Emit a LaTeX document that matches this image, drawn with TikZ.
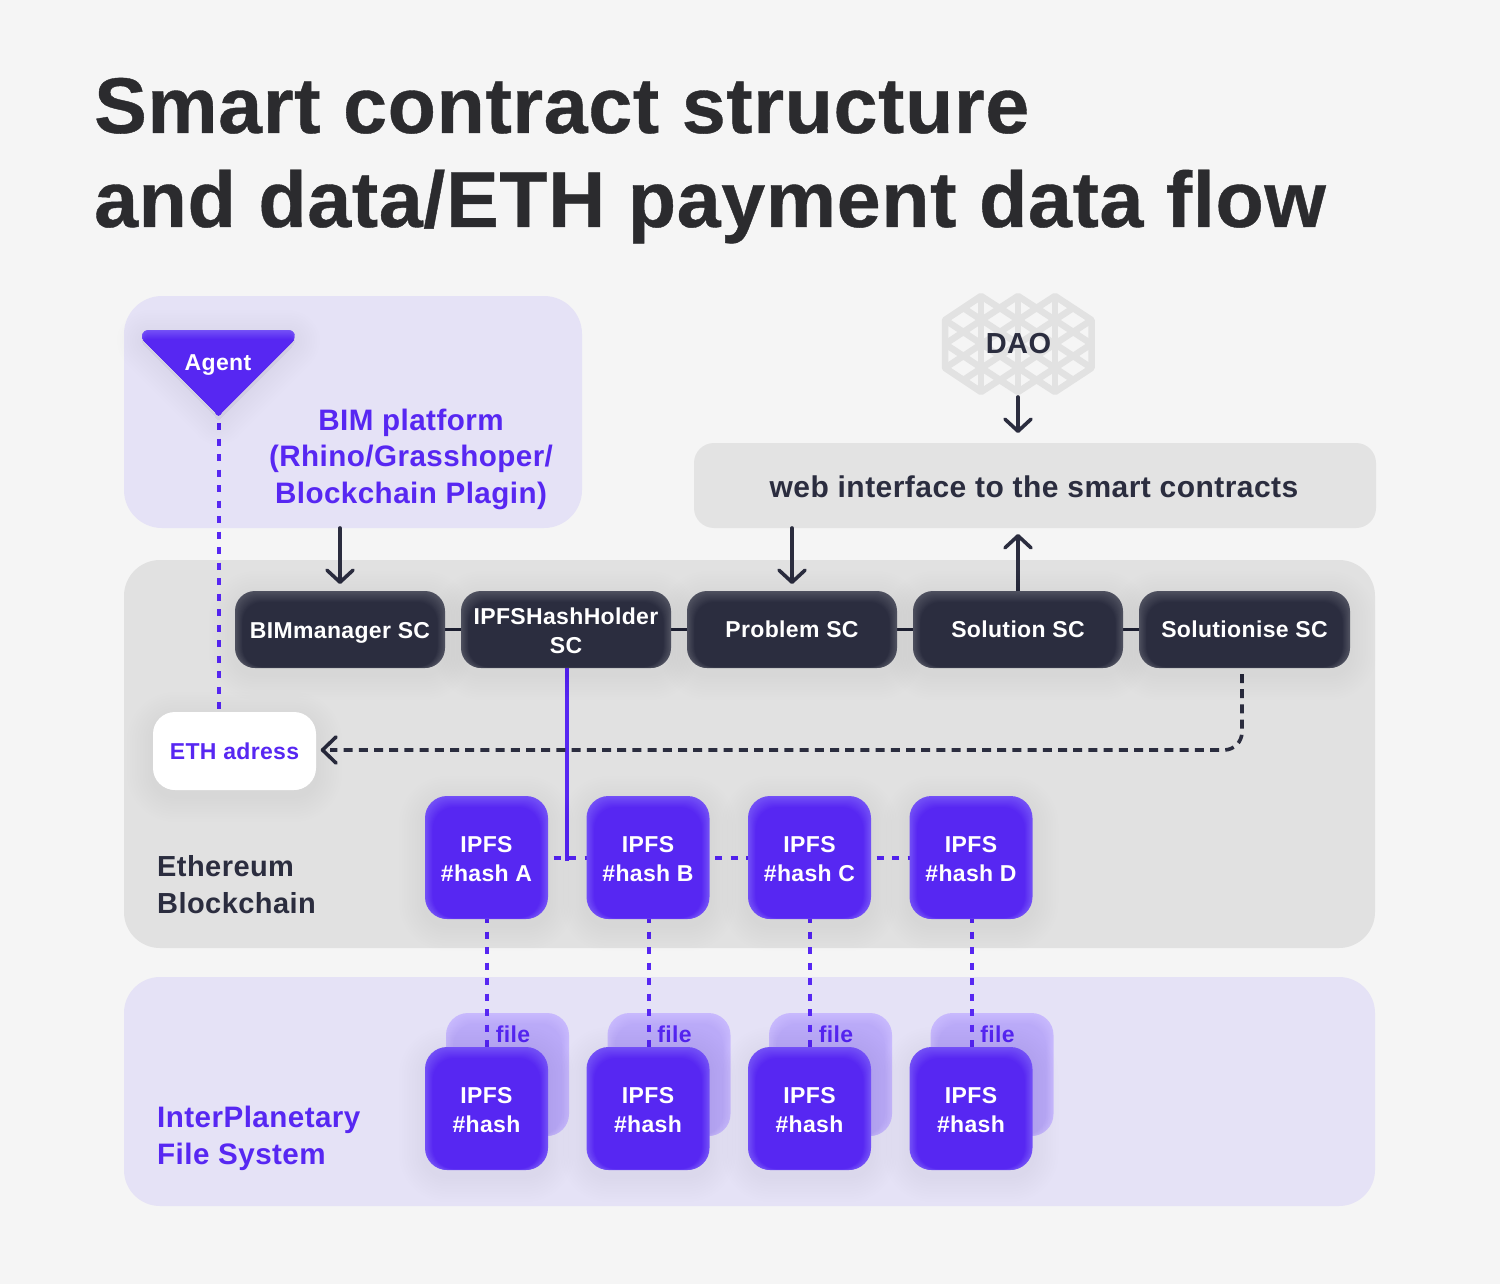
\documentclass[tikz,border=0pt]{standalone}
\usepackage{fontspec}
\setmainfont[LetterSpace=1.5]{Liberation Sans}
\newfontfamily\titlefont[LetterSpace=0.8,BoldFeatures={FakeBold=0.5}]{Liberation Sans}
\usetikzlibrary{arrows.meta,calc}
\definecolor{pagebg}{HTML}{F5F5F5}
\definecolor{lilacpanel}{HTML}{E5E2F6}
\definecolor{greypanel}{HTML}{E1E1E1}
\definecolor{webpanel}{HTML}{E3E3E3}
\definecolor{ink}{HTML}{2B2B2E}
\definecolor{cdark}{HTML}{2B2D3F}
\definecolor{cdarklight}{HTML}{4E505F}
\definecolor{cpurple}{HTML}{5727F2}
\definecolor{cpurplelight}{HTML}{7350F6}
\definecolor{cfile}{HTML}{BAAAF8}
\definecolor{cfilelight}{HTML}{C8B9FD}
\definecolor{cwhite}{HTML}{FFFFFF}
\definecolor{cwhitelight}{HTML}{FFFFFF}
\definecolor{lattice}{HTML}{E2E2E2}
\pgfdeclarelayer{bg}\pgfdeclarelayer{files}\pgfdeclarelayer{conn}
\pgfsetlayers{bg,files,conn,main}
\tikzset{
  fs/.style={font=\bfseries\fontsize{#1}{#1}\selectfont},
  cardtext/.style={inner sep=0pt,align=center,text=white,font=\bfseries\fontsize{23}{29}\selectfont},
  ethtext/.style={cardtext,text=cpurple},
  filetext/.style={inner sep=0pt,text=cpurple,font=\bfseries\fontsize{23}{29}\selectfont},
  titletext/.style={anchor=base west,inner sep=0pt,text=ink,font=\titlefont\bfseries\fontsize{79}{94}\selectfont},
  panel/.style={inner sep=0pt,rounded corners=#1},
  paneltext/.style={inner sep=0pt,align=left,font=\bfseries\fontsize{29}{37}\selectfont},
  flow/.style={draw=cdark,line width=3.6pt,line cap=round,-{Straight Barb[length=12pt,width=26pt,line width=3.6pt,round]}},
  sclink/.style={draw=cdark,line width=3.6pt},
  dashdark/.style={draw=cdark,line width=3.6pt,dash pattern=on 9pt off 6.2pt,rounded corners=18pt},
  dashpurple/.style={draw=cpurple,line width=4pt,dash pattern=on 7pt off 8.5pt},
  solidpurple/.style={draw=cpurple,line width=3.6pt},
  latticeline/.style={draw=lattice,line width=6.5pt,line join=round,line cap=round},
}
% soft drop shadow below a card
\newcommand{\softshadow}[5]{%
  \foreach \i in {1,...,10}{%
    \pgfmathsetmacro{\e}{\i*2.6}%
    \fill[black,opacity=.0055,rounded corners={(#5+\e)*1pt}]
      ({#1-\e},{#2-\e+6}) rectangle ({#3+\e},{#4+\e+6});
  }}
% card: light rim fading to the base colour, and a named node carrying the text
% #1 name, #2 x0, #3 y0, #4 x1, #5 y1, #6 radius, #7 colour, #8 node style, #9 text
\newcommand{\softcard}[9]{%
  \foreach \i in {0,...,11}{%
    \pgfmathsetmacro{\m}{\i*100/11}%
    \pgfmathsetmacro{\t}{\i*1.0}%
    \pgfmathsetmacro{\s}{\i*.7}%
    \pgfmathsetmacro{\b}{\i*.1}%
    \fill[color={#7!\m!#7light},rounded corners={#6*1pt}]
      ({#2+\s},{#3+\t}) rectangle ({#4-\s},{#5-\b});
  }%
  \pgfmathsetmacro{\W}{#4-(#2)}\pgfmathsetmacro{\H}{#5-(#3)}%
  \node[#8,minimum width=\W pt,minimum height=\H pt] (#1) at ({(#2+#4)/2},{(#3+#5)/2}) {#9};
}
\newcommand{\agentshape}{(150,330) -- (287,330) .. controls (296,330) and (297,337) .. (292,342) -- (222,412) .. controls (219.5,416.5) and (217.5,416.5) .. (215,412) -- (145,342) .. controls (140,337) and (141,330) .. (150,330) -- cycle}
\newcommand{\daooutline}{(981,296) -- (999.5,308) -- (1018,296) -- (1036.5,308) -- (1055,296) -- (1091.5,320) -- (1091.5,368) -- (1055,392) -- (1036.5,380) -- (1018,392) -- (999.5,380) -- (981,392) -- (945,368) -- (945,320) -- cycle}
\begin{document}
\begin{tikzpicture}[x=1pt,y=-1pt]
\useasboundingbox (0,0) rectangle (1500,1284);

\node[titletext] (titleA) at (94,133) {Smart contract structure};
\node[titletext] (titleB) at (94,227) {and data/ETH payment data flow};

% panels
\begin{pgfonlayer}{bg}
\fill[pagebg] (0,0) rectangle (1500,1284);
\path[fill=lilacpanel,panel=38pt] (124,296) rectangle (582,528);
\path[fill=greypanel,panel=36pt] (124,560) rectangle (1375,948);
\path[fill=lilacpanel,panel=36pt] (124,977) rectangle (1375,1206);
\path[fill=webpanel,panel=20pt] (694,443) rectangle (1376,528);
\coordinate (bimS) at (340,528);
\coordinate (webS) at (792,528);
\coordinate (webSb) at (1018,528);
\coordinate (webN) at (1018,443);
% DAO lattice
\begin{scope}
  \clip \daooutline;
  \foreach \k in {-6,...,6}{
    \draw[latticeline] (945,{320+\k*24}) -- (1091.5,{320+\k*24+96});
    \draw[latticeline] (945,{320+\k*24}) -- (1091.5,{320+\k*24-96});
  }
  \foreach \cx in {981,1018,1055}{
    \draw[latticeline] (\cx,290) -- (\cx,398);
  }
\end{scope}
\draw[latticeline] \daooutline;
\end{pgfonlayer}
\node[inner sep=0pt,text=cdark,fs=29] (dao) at (1018.5,344) {DAO};
\coordinate (daoS) at (1018,397);

\node[inner sep=0pt,align=center,text=cpurple,font=\bfseries\fontsize{29.6}{36.5}\selectfont] (bimlabel) at (411,459) {BIM platform\\(Rhino/Grasshoper/\\Blockchain Plagin)};
\node[inner sep=0pt,text=cdark,fs=30] (weblabel) at (1034,487) {web interface to the smart contracts};
\node[paneltext,text=cdark,anchor=west] (ethchain) at (157,885) {Ethereum\\Blockchain};
\node[paneltext,text=cpurple,anchor=west,font=\bfseries\fontsize{29.6}{37}\selectfont] (ipfschain) at (157,1138) {InterPlanetary\\File System};

% Agent
\foreach \i in {1,...,10}{
  \draw[black,opacity=.0055,line width={\i*5pt},line join=round,fill=black,yshift=-5pt] \agentshape;
}
\begin{scope}
  \clip \agentshape;
  \fill[cpurplelight] (130,325) rectangle (300,420);
  \foreach \i in {0,...,9}{
    \pgfmathsetmacro{\m}{\i*100/9}
    \fill[color={cpurple!\m!cpurplelight},yshift={-\i*1pt}] \agentshape;
  }
\end{scope}
\node[inner sep=0pt,text=white,fs=23,yshift=-3pt] (agent) at (218,362) {Agent};
\coordinate (agenttip) at (219,416);

% smart contract boxes
\foreach \x/\xe in {235/445,461/671,687/897,913/1123,1139/1350}{\softshadow{\x}{591}{\xe}{668}{20}}
\softcard{sca}{235}{591}{445}{668}{20}{cdark}{cardtext,yshift=-3pt}{BIMmanager SC}
\softcard{scb}{461}{591}{671}{668}{20}{cdark}{cardtext,yshift=-1pt}{IPFSHashHolder\\SC}
\softcard{scc}{687}{591}{897}{668}{20}{cdark}{cardtext}{Problem SC}
\softcard{scd}{913}{591}{1123}{668}{20}{cdark}{cardtext}{Solution SC}
\softcard{sce}{1139}{591}{1350}{668}{20}{cdark}{cardtext}{Solutionise SC}

% ETH address
\softshadow{153}{712}{316}{790}{22}
\softcard{eth}{153}{712}{316}{790}{22}{cwhite}{ethtext}{ETH adress}

% IPFS rows
\foreach \n/\x/\l in {a/425/A,b/586.5/B,c/748/C,d/909.5/D}{
  \begin{pgfonlayer}{files}
    \softcard{file\n}{\x+21}{1013}{\x+144}{1136}{22}{cfile}{inner sep=0pt}{}
    \node[filetext] (filelabel\n) at (\x+88,1034) {file};
  \end{pgfonlayer}
  \softshadow{\x}{796}{\x+123}{919}{22}
  \softcard{hash\n}{\x}{796}{\x+123}{919}{22}{cpurple}{cardtext,yshift=-2pt}{IPFS\\\#hash \l}
  \softshadow{\x}{1047}{\x+123}{1170}{22}
  \softcard{store\n}{\x}{1047}{\x+123}{1170}{22}{cpurple}{cardtext,yshift=-2pt}{IPFS\\\#hash}
}

% connectors
\begin{pgfonlayer}{conn}
\draw[dashpurple] (agenttip) ++(0,7) -- (agenttip |- eth.north);
\draw[sclink] (sca.east |- scc.east) -- (scb.west |- scc.west);
\draw[sclink] (scb.east |- scc.east) -- (scc.west);
\draw[sclink] (scc.east) -- (scd.west);
\draw[sclink] (scd.east) -- (sce.west);
\coordinate (busEnd) at (567,668);
\coordinate (junction) at (busEnd |- hasha.east);
\draw[solidpurple] (busEnd) -- (junction) -- ++(1.8,0);
\draw[dashpurple,dash phase=10] (548,858) -- (586.5,858);
\draw[dashpurple,dash phase=10] (709.5,858) -- (748,858);
\draw[dashpurple,dash phase=10] (871,858) -- (909.5,858);
\foreach \n/\x in {a/487,b/648.5,c/810,d/971.5}{
  \draw[dashpurple,dash phase=3] (\x,919) -- (\x,1047);
}
\coordinate (bend) at (1242,668);
\draw[dashdark] (bend) ++(0,6) -- (1242,750) -- (330,750);
\draw[draw=cdark,line width=3.6pt,line cap=round,line join=round]
  (336,737) -- (322.5,750) -- (336,763);
\draw[flow] (bimS) -- (340,584);
\draw[flow] (webS) -- (792,584);
\draw[flow] (scd.north |- 0,591) -- ($(webSb)+(0,6)$);
\draw[flow] (daoS) -- ($(webN)+(0,-10)$);
\end{pgfonlayer}
\end{tikzpicture}
\end{document}
